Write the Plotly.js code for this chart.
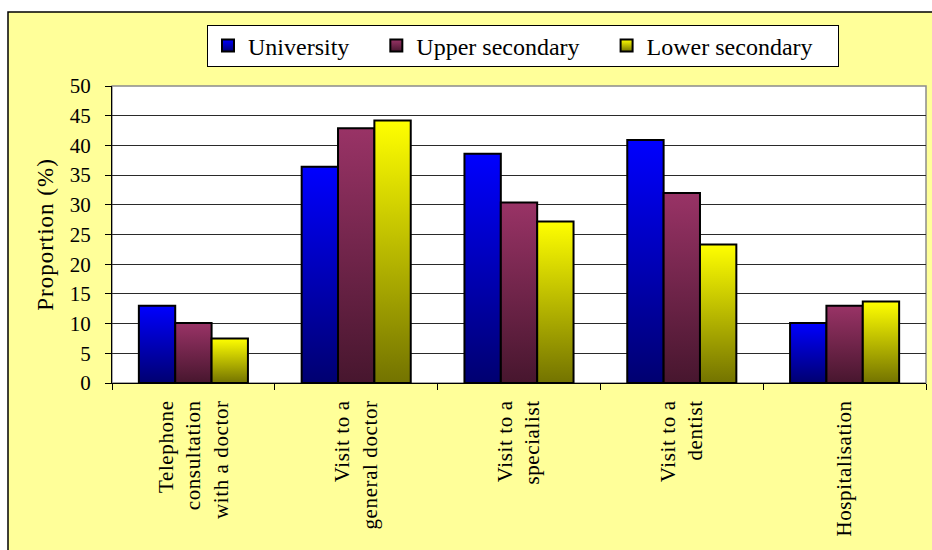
<!DOCTYPE html>
<html>
<head>
<meta charset="utf-8">
<script src="https://cdn.plot.ly/plotly-3.0.1.min.js"></script>
<style>
  html, body { margin: 0; padding: 0; background: #ffffff; }
  #chart { width: 932px; height: 550px; }
  #chart .xtick text { letter-spacing: 0.6px; }
  #chart .ytitle { letter-spacing: 1px; }
</style>
</head>
<body>
<div id="chart"></div>
<script>
// ---- Data ----
const categories = [
  "Telephone<br>consultation<br>with a doctor",
  "Visit to a<br>general doctor",
  "Visit to a<br>specialist",
  "Visit to a<br>dentist",
  "Hospitalisation"
];
const seriesNames = ["University", "Upper secondary", "Lower secondary"];
const university = [13.0, 36.4, 38.6, 40.9, 10.1];
const upperSecondary = [10.1, 42.9, 30.4, 32.0, 13.0];
const lowerSecondary = [7.5, 44.2, 27.2, 23.3, 13.7];
const yTicks = [0, 5, 10, 15, 20, 25, 30, 35, 40, 45, 50];

// ---- Styles ----
const gradients = [
  { top: "#0000FF", bottom: "#000070" },
  { top: "#993366", bottom: "#47162E" },
  { top: "#FFFF00", bottom: "#737300" }
];
const serif = "Liberation Serif";

const seriesValues = [university, upperSecondary, lowerSecondary];
const traces = seriesValues.map((vals, i) => ({
  type: "bar",
  name: seriesNames[i],
  x: categories,
  y: vals,
  marker: { color: gradients[i].top, line: { color: "#000000", width: 2 } },
  hoverinfo: "x+y+name"
}));

const layout = {
  width: 932,
  height: 550,
  margin: { l: 112, r: 6, t: 86, b: 167 },
  paper_bgcolor: "#ffffff",
  plot_bgcolor: "#ffffff",
  font: { family: serif, color: "#000000", size: 21 },
  barmode: "group",
  bargap: 0.33,
  bargroupgap: 0,
  showlegend: true,
  legend: {
    orientation: "h",
    x: (207 - 112) / 814, xanchor: "left",
    y: 1 + (86 - 25) / 297, yanchor: "top",
    bgcolor: "#ffffff",
    bordercolor: "#000000",
    borderwidth: 1,
    font: { family: serif, size: 24, color: "#000000" },
    traceorder: "normal"
  },
  xaxis: {
    type: "category",
    automargin: false,
    showline: true,
    linecolor: "#000000",
    linewidth: 1,
    ticks: "outside",
    tickson: "boundaries",
    ticklen: 6,
    tickcolor: "#000000",
    tickangle: -90,
    ticklabelstandoff: 8,
    tickfont: { family: serif, size: 21, color: "#000000" },
    showgrid: false,
    zeroline: false
  },
  yaxis: {
    range: [0, 50],
    automargin: false,
    tickvals: yTicks,
    ticktext: yTicks.map(String),
    showline: true,
    linecolor: "#000000",
    linewidth: 1,
    ticks: "outside",
    ticklen: 6,
    tickcolor: "#000000",
    ticklabelstandoff: 10,
    tickfont: { family: serif, size: 21, color: "#000000" },
    showgrid: true,
    gridcolor: "#2a2a2a",
    gridwidth: 1,
    zeroline: false,
    title: { text: "Proportion (%)", font: { family: serif, size: 23, color: "#000000" }, standoff: 9 }
  },
  shapes: [
    {
      type: "rect", layer: "below", xref: "paper", yref: "paper",
      x0: (8 - 112) / 814, x1: 1.2, y0: -1.0, y1: 1 + (86 - 12) / 297,
      fillcolor: "#FFFF99", line: { color: "#000000", width: 1.5 }
    },
    {
      type: "rect", layer: "below", xref: "paper", yref: "paper",
      x0: 0, x1: 1, y0: 0, y1: 1,
      fillcolor: "#ffffff", line: { color: "#8c8c8c", width: 1.5 }
    }
  ]
};

const gd = document.getElementById("chart");
Plotly.newPlot(gd, traces, layout, { staticPlot: true, displayModeBar: false }).then(() => {
  const svgNS = "http://www.w3.org/2000/svg";
  const svg = gd.querySelector(".main-svg");
  let defs = svg.querySelector("defs");
  if (!defs) { defs = document.createElementNS(svgNS, "defs"); svg.insertBefore(defs, svg.firstChild); }
  gradients.forEach((g, i) => {
    const lg = document.createElementNS(svgNS, "linearGradient");
    lg.setAttribute("id", "barGrad" + i);
    lg.setAttribute("x1", "0"); lg.setAttribute("y1", "0");
    lg.setAttribute("x2", "0"); lg.setAttribute("y2", "1");
    const s1 = document.createElementNS(svgNS, "stop");
    s1.setAttribute("offset", "0"); s1.setAttribute("stop-color", g.top);
    const s2 = document.createElementNS(svgNS, "stop");
    s2.setAttribute("offset", "1"); s2.setAttribute("stop-color", g.bottom);
    lg.appendChild(s1); lg.appendChild(s2);
    defs.appendChild(lg);
  });
  gd.querySelectorAll(".barlayer .trace").forEach((tr, i) => {
    tr.querySelectorAll("path").forEach(p => { p.style.fill = "url(#barGrad" + i + ")"; });
  });
  // legend: gradient symbols, wider spacing between entries, slightly shorter box
  const extraGap = 22;
  const shrinkH = 5;
  const items = gd.querySelectorAll(".legend .traces");
  items.forEach((tr, i) => {
    tr.querySelectorAll(".legendpoints path").forEach(p => { p.style.fill = "url(#barGrad" + i + ")"; });
    const t = tr.getAttribute("transform") || "";
    const m = t.match(/translate\(\s*([-\d.]+)[ ,]+([-\d.]+)\s*\)/);
    if (m) tr.setAttribute("transform", "translate(" + (parseFloat(m[1]) + i * extraGap) + "," + (parseFloat(m[2]) - shrinkH / 2) + ")");
  });
  const addW = extraGap * (items.length - 1) + 20;
  const bg = gd.querySelector(".legend .bg");
  if (bg) {
    bg.setAttribute("width", parseFloat(bg.getAttribute("width")) + addW);
    bg.setAttribute("height", parseFloat(bg.getAttribute("height")) - shrinkH);
  }
  gd.querySelectorAll("defs clipPath[id^='legend'] rect").forEach(r => {
    r.setAttribute("width", parseFloat(r.getAttribute("width")) + addW);
  });
});
</script>
</body>
</html>
